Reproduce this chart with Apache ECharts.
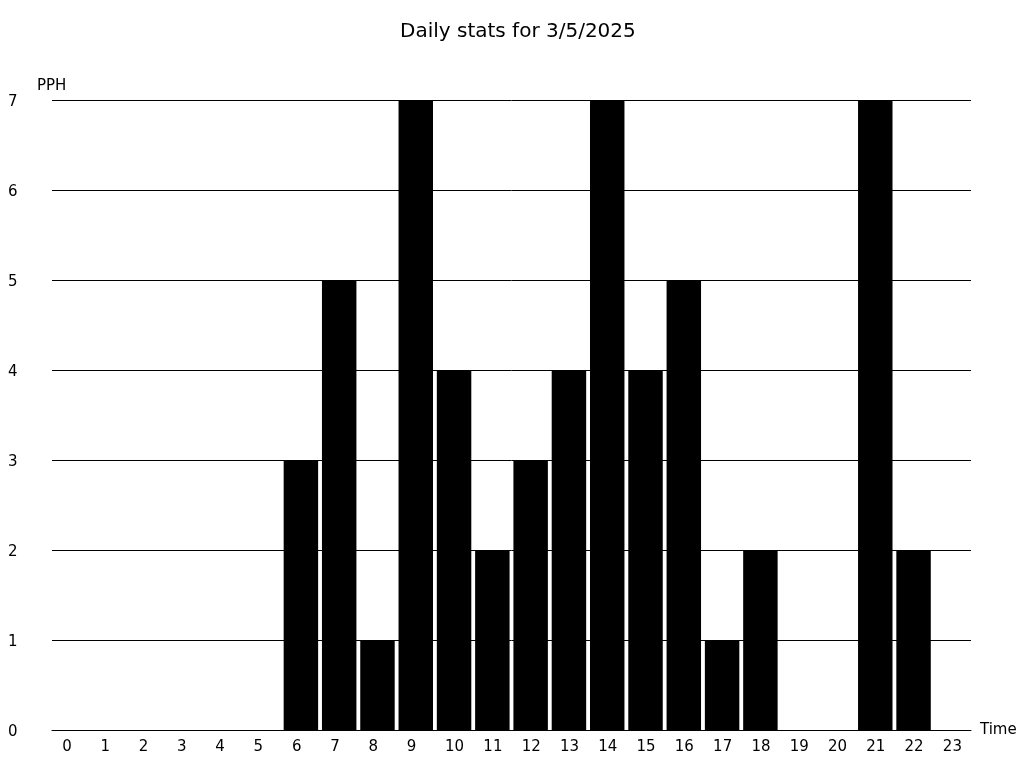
<!DOCTYPE html>
<html><head><meta charset="utf-8">
<script src="https://cdn.jsdelivr.net/npm/echarts@6/dist/echarts.min.js"></script>
<style>html,body{margin:0;padding:0;background:#fff}#c{width:1024px;height:768px}</style>
</head><body><div id="c"></div>
<script>
const categories = ['0','1','2','3','4','5','6','7','8','9','10','11','12','13','14','15','16','17','18','19','20','21','22','23'];
const pph = [0,0,0,0,0,0,3,5,1,7,4,2,3,4,7,4,5,1,2,0,0,7,2,0];
const titleText = 'Daily stats for 3/5/2025';
const chart = echarts.init(document.getElementById('c'));
const font = 'DejaVu Sans';
chart.setOption({
  animation: false,
  backgroundColor: '#fff',
  title: { text: titleText, left: 395, top: 17, textStyle: { fontFamily: font, fontSize: 20, fontWeight: 'normal', color: '#000' } },
  grid: { left: 52, right: 53, top: 100, bottom: 38 },
  xAxis: {
    type: 'category', data: categories,
    name: 'Time', nameLocation: 'end', nameGap: 9,
    nameTextStyle: { fontFamily: font, fontSize: 15, color: '#000', verticalAlign: 'middle', padding: [4, 0, 0, 0] },
    axisLine: { lineStyle: { color: '#000', width: 1 } },
    axisTick: { show: false },
    axisLabel: { fontFamily: font, fontSize: 15, color: '#000', margin: 10, align: 'left', padding: [0, 0, 0, -9] }
  },
  yAxis: {
    type: 'value', min: 0, max: 7, interval: 1,
    name: 'PPH', nameLocation: 'end', nameGap: 6,
    nameTextStyle: { fontFamily: font, fontSize: 15, color: '#000', align: 'left', padding: [0, 0, 0, -15] },
    axisLine: { show: false },
    axisTick: { show: false },
    splitLine: { lineStyle: { color: '#000', width: 1 } },
    axisLabel: {
      fontFamily: font, fontSize: 15, color: '#000', margin: 44, align: 'left',
      formatter: '{a|{value}}',
      rich: { a: { fontFamily: font, fontSize: 15, color: '#000', padding: [4, 0, 0, 0] } }
    }
  },
  series: [{ type: 'bar', data: pph, barCategoryGap: '10%', itemStyle: { color: '#000' } }]
});
</script></body></html>
